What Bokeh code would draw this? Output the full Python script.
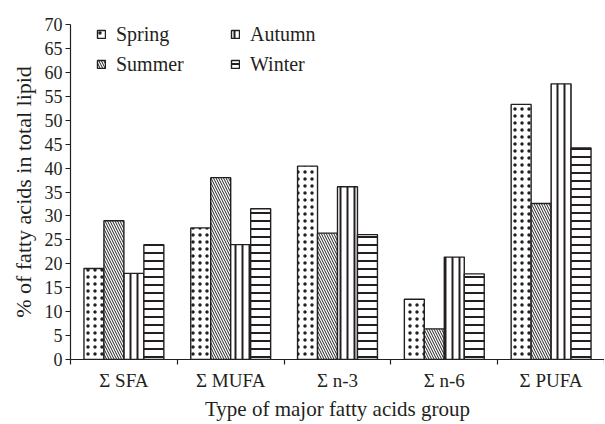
from bokeh.plotting import figure
from bokeh.models import FixedTicker, Range1d, Legend, LegendItem, ColumnDataSource
from bokeh.embed import file_html
from bokeh.resources import INLINE

groups = ["\u03a3 SFA", "\u03a3 MUFA", "\u03a3 n-3", "\u03a3 n-6", "\u03a3 PUFA"]
seasons = ["Spring", "Summer", "Autumn", "Winter"]
spring = [19.0, 27.5, 40.4, 12.6, 53.3]
summer = [29.0, 38.0, 26.4, 6.4, 32.6]
autumn = [18.0, 24.0, 36.1, 21.4, 57.6]
winter = [24.0, 31.5, 26.1, 17.9, 44.2]
y_ticks = list(range(0, 75, 5))

FONT = "Liberation Serif"
TXT = "#231f20"

p = figure(frame_width=534, frame_height=335, output_backend="svg", toolbar_location=None,
           x_range=Range1d(0, 5), y_range=Range1d(0, 70),
           min_border_left=70, min_border_right=0, min_border_top=24, min_border_bottom=60)
p.outline_line_color = None
p.xgrid.visible = False
p.ygrid.visible = False

w = 0.187
centers = [i + 0.5 for i in range(len(groups))]
series = [spring, summer, autumn, winter]
styles = [
    dict(hatch_pattern="dot", hatch_scale=7, hatch_weight=0.3),
    dict(hatch_pattern="left_diagonal_line", hatch_scale=5, hatch_weight=1.0),
    dict(hatch_pattern="vertical_line", hatch_scale=7, hatch_weight=2.0),
    dict(hatch_pattern="horizontal_line", hatch_scale=8, hatch_weight=2.0),
]
renderers = []
for k, (vals, st) in enumerate(zip(series, styles)):
    xs = [c + (k - 1.5) * w for c in centers]
    src = ColumnDataSource(dict(x=xs, top=vals))
    r = p.vbar(x="x", top="top", width=w, bottom=0, source=src,
               fill_color="white", line_color="#231f20", line_width=1.4,
               hatch_color="#231f20", **st)
    renderers.append(r)

# axes
p.xaxis.ticker = FixedTicker(ticks=centers, minor_ticks=list(range(0, 6)))
p.xaxis.major_label_overrides = {c: g for c, g in zip(centers, groups)}
p.xaxis.major_tick_in = 0
p.xaxis.major_tick_out = 0
p.xaxis.minor_tick_in = 0
p.xaxis.minor_tick_out = 5
p.yaxis.ticker = FixedTicker(ticks=y_ticks)
p.yaxis.major_tick_in = 0
p.yaxis.major_tick_out = 5
for ax in (p.xaxis, p.yaxis):
    ax.axis_line_color = TXT
    ax.major_tick_line_color = TXT
    ax.minor_tick_line_color = TXT
    ax.axis_line_width = 1.2
    ax.major_tick_line_width = 1.2
    ax.minor_tick_line_width = 1.2
    ax.major_label_text_font = FONT
    ax.major_label_text_font_size = "18px"
    ax.major_label_text_color = TXT
    ax.axis_label_text_font = FONT
    ax.axis_label_text_font_style = "normal"
    ax.axis_label_text_color = TXT
p.xaxis.major_label_text_font_size = "19px"
p.xaxis.axis_label_text_font_size = "21px"
p.yaxis.axis_label_text_font_size = "22px"
p.yaxis.minor_tick_line_color = None
p.xaxis.axis_label = "Type of major fatty acids group"
p.yaxis.axis_label = "% of fatty acids in total lipid"
p.xaxis.major_label_standoff = 5
p.yaxis.major_label_standoff = 3
p.xaxis.axis_label_standoff = 3
p.yaxis.axis_label_standoff = 6

def mk_legend(items, loc):
    lg = Legend(items=items, location=loc, orientation="vertical",
                background_fill_alpha=0, border_line_color=None,
                label_text_font=FONT, label_text_font_size="20px", label_text_color=TXT,
                glyph_width=10, glyph_height=10, label_standoff=10, spacing=6,
                padding=0, margin=0, label_height=24)
    p.add_layout(lg, "center")

mk_legend([LegendItem(label="Spring", renderers=[renderers[0]]),
           LegendItem(label="Summer", renderers=[renderers[1]])], (26, 283))
mk_legend([LegendItem(label="Autumn", renderers=[renderers[2]]),
           LegendItem(label="Winter", renderers=[renderers[3]])], (160, 283))

open("out.html", "w").write(file_html(p, INLINE))
